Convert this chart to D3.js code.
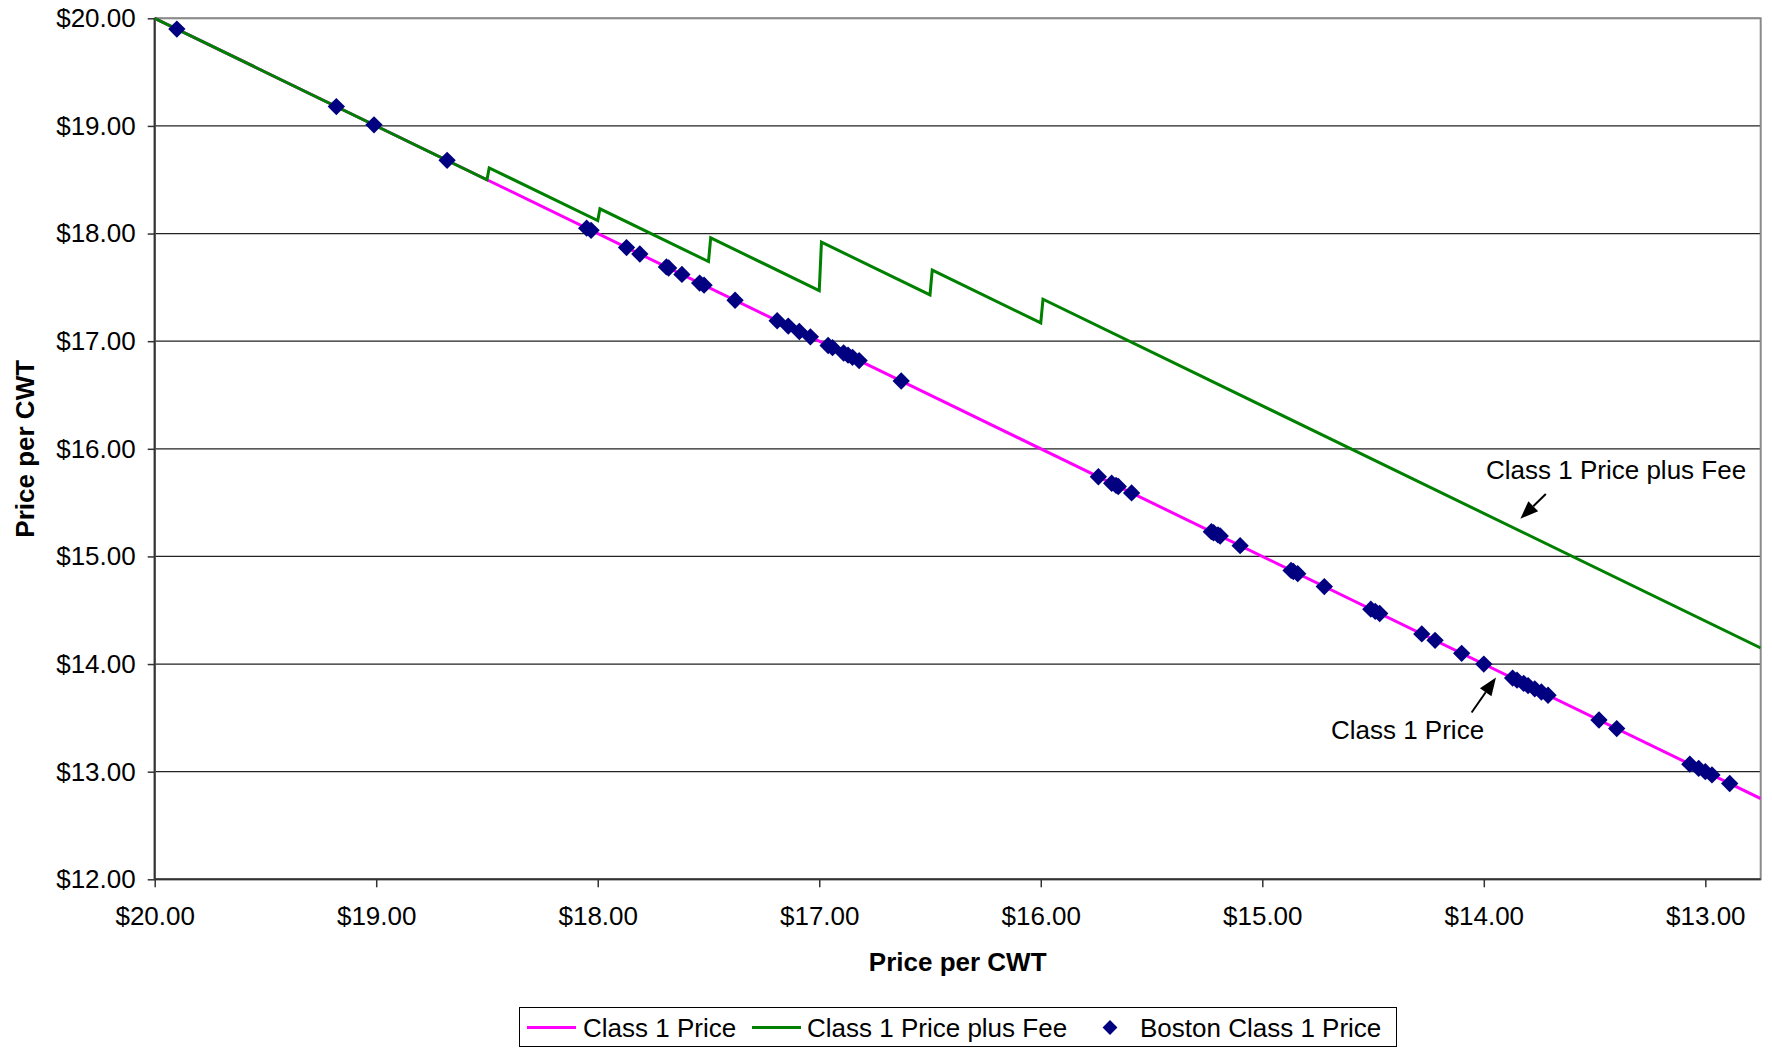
<!DOCTYPE html>
<html>
<head>
<meta charset="utf-8">
<script src="https://cdn.jsdelivr.net/npm/d3@7"></script>
<style>
  html, body { margin: 0; padding: 0; background: #fff; }
  svg { display: block; font-family: "Liberation Sans", Arial, sans-serif; }
</style>
</head>
<body>
<svg id="chart" width="1772" height="1048"></svg>
<script>
// Axis ticks ($ per hundredweight)
const xTicks = [20, 19, 18, 17, 16, 15, 14, 13];
const yTicks = [12, 13, 14, 15, 16, 17, 18, 19, 20];

// Class 1 price: the price itself
const class1X = [20.00, 18.50, 12.75];
const class1Y = [20.00, 18.50, 12.75];

// Class 1 price plus the stepped fee
const feeX = [20.00, 18.50, 18.49, 18.00, 17.99, 17.50, 17.49, 17.00, 16.99, 16.50, 16.49, 16.00, 15.99, 12.75];
const feeY = [20.00, 18.50, 18.61, 18.12, 18.23, 17.74, 17.96, 17.47, 17.92, 17.43, 17.66, 17.17, 17.39, 14.15];

// Observed Boston Class 1 prices
const bostonPrice = [19.90, 19.18, 19.01, 18.68, 18.05, 18.03, 17.87, 17.81, 17.69, 17.68,
  17.62, 17.54, 17.52, 17.38, 17.19, 17.14, 17.09, 17.04, 16.96, 16.94,
  16.89, 16.87, 16.85, 16.82, 16.63, 15.74, 15.68, 15.66, 15.65, 15.59,
  15.23, 15.22, 15.20, 15.19, 15.10, 14.87, 14.86, 14.84, 14.72, 14.51,
  14.49, 14.47, 14.28, 14.22, 14.10, 14.00, 13.87, 13.85, 13.82, 13.80,
  13.77, 13.74, 13.71, 13.48, 13.40, 13.07, 13.03, 13.00, 12.97, 12.89];

const seriesNames = ["Class 1 Price", "Class 1 Price plus Fee", "Boston Class 1 Price"];
const colors = { class1: "#ff00ff", fee: "#008000", boston: "#000080" };

// Callout labels, placed in data units: [text, labelX, labelY, arrowFromX, arrowFromY, arrowToX, arrowToY]
const callouts = [
  ["Class 1 Price plus Fee", 13.99, 15.72, 13.72, 15.58, 13.835, 15.35],
  ["Class 1 Price", 14.69, 13.30, 14.055, 13.55, 13.945, 13.875]
];

const svg = d3.select("#chart");
const m = { left: 154.7, right: 1760.7, top: 18.3, bottom: 879.3 };
const FONT = 26;

const x = d3.scaleLinear().domain([20, 12.75]).range([m.left, m.right]);
const y = d3.scaleLinear().domain([12, 20]).range([m.bottom, m.top]);
const fmt = d3.format("$.2f");

svg.append("defs").append("clipPath").attr("id", "plot")
  .append("rect").attr("x", m.left).attr("y", m.top - 2)
  .attr("width", m.right - m.left).attr("height", m.bottom - m.top + 4);

// Horizontal gridlines
svg.append("g").selectAll("line").data(yTicks.filter(d => d > 12)).join("line")
  .attr("x1", m.left).attr("x2", m.right)
  .attr("y1", d => y(d)).attr("y2", d => y(d))
  .attr("stroke", "#222").attr("stroke-width", 1.2);

// Plot area border
svg.append("rect").attr("x", m.left).attr("y", m.top)
  .attr("width", m.right - m.left).attr("height", m.bottom - m.top)
  .attr("fill", "none").attr("stroke", "#8a8a8a").attr("stroke-width", 2);

// Axes
const yAxis = svg.append("g").attr("transform", `translate(${m.left},0)`)
  .call(d3.axisLeft(y).tickValues(yTicks).tickFormat(fmt).tickSize(7).tickPadding(12));
const xAxis = svg.append("g").attr("transform", `translate(0,${m.bottom})`)
  .call(d3.axisBottom(x).tickValues(xTicks).tickFormat(fmt).tickSize(8).tickPadding(19.5));
[yAxis, xAxis].forEach(g => {
  g.select(".domain").attr("stroke", "#333").attr("stroke-width", 2);
  g.selectAll(".tick line").attr("stroke", "#333").attr("stroke-width", 1.5);
  g.selectAll("text").attr("font-size", FONT).attr("fill", "#000")
    .attr("font-family", "Liberation Sans, Arial, sans-serif");
});
yAxis.select(".domain").attr("d", `M0,${y(20)}V${y(12)}`);
xAxis.select(".domain").attr("d", `M${x(20)},0H${m.right}`);
xAxis.selectAll(".tick line").attr("y1", 0);

// Axis titles
svg.append("text").attr("x", (m.left + m.right) / 2).attr("y", 971)
  .attr("text-anchor", "middle").attr("font-weight", "bold").attr("font-size", FONT)
  .text("Price per CWT");
svg.append("text").attr("transform", `translate(34,${(m.top + m.bottom) / 2}) rotate(-90)`)
  .attr("text-anchor", "middle").attr("font-weight", "bold").attr("font-size", FONT)
  .text("Price per CWT");

// Series
const line = d3.line().x(d => x(d[0])).y(d => y(d[1]));
const plot = svg.append("g").attr("clip-path", "url(#plot)");
plot.append("path").datum(d3.zip(class1X, class1Y)).attr("d", line)
  .attr("fill", "none").attr("stroke", colors.class1).attr("stroke-width", 3);
plot.append("path").datum(d3.zip(feeX, feeY)).attr("d", line)
  .attr("fill", "none").attr("stroke", colors.fee).attr("stroke-width", 3)
  .attr("stroke-linejoin", "miter");

const diamond = d3.symbol().type(d3.symbolSquare).size(150);
svg.append("g").selectAll("path").data(bostonPrice).join("path")
  .attr("d", diamond)
  .attr("transform", d => `translate(${x(d)},${y(d)}) rotate(45)`)
  .attr("fill", colors.boston);

// Callouts with arrows
callouts.forEach(([label, lx, ly, fx, fy, tx, ty]) => {
  svg.append("text").attr("x", x(lx)).attr("y", y(ly)).attr("font-size", FONT).text(label);
  const x1 = x(fx), y1 = y(fy), x2 = x(tx), y2 = y(ty);
  const ang = Math.atan2(y2 - y1, x2 - x1);
  const L = 18, W = 7;
  const bx = x2 - L * Math.cos(ang), by = y2 - L * Math.sin(ang);
  svg.append("line").attr("x1", x1).attr("y1", y1).attr("x2", bx).attr("y2", by)
    .attr("stroke", "#000").attr("stroke-width", 2);
  svg.append("path")
    .attr("d", `M${x2},${y2}L${bx + W * Math.sin(ang)},${by - W * Math.cos(ang)}L${bx - W * Math.sin(ang)},${by + W * Math.cos(ang)}Z`)
    .attr("fill", "#000");
});

// Legend
const lg = svg.append("g");
lg.append("rect").attr("x", 519.5).attr("y", 1007.5).attr("width", 877).attr("height", 39)
  .attr("fill", "#fff").attr("stroke", "#000").attr("stroke-width", 1);
const legendY = 1027.5;
const legendItems = [
  { name: seriesNames[0], kind: "line", color: colors.class1, sx: 527, tx: 583 },
  { name: seriesNames[1], kind: "line", color: colors.fee, sx: 752, tx: 807 },
  { name: seriesNames[2], kind: "marker", color: colors.boston, sx: 1110, tx: 1140 }
];
legendItems.forEach(it => {
  if (it.kind === "line") {
    lg.append("line").attr("x1", it.sx).attr("x2", it.sx + 49)
      .attr("y1", legendY).attr("y2", legendY)
      .attr("stroke", it.color).attr("stroke-width", 3);
  } else {
    lg.append("path").attr("d", d3.symbol().type(d3.symbolSquare).size(110))
      .attr("transform", `translate(${it.sx},${legendY}) rotate(45)`).attr("fill", it.color);
  }
  lg.append("text").attr("x", it.tx).attr("y", legendY + 9.5).attr("font-size", FONT).text(it.name);
});
</script>
</body>
</html>
